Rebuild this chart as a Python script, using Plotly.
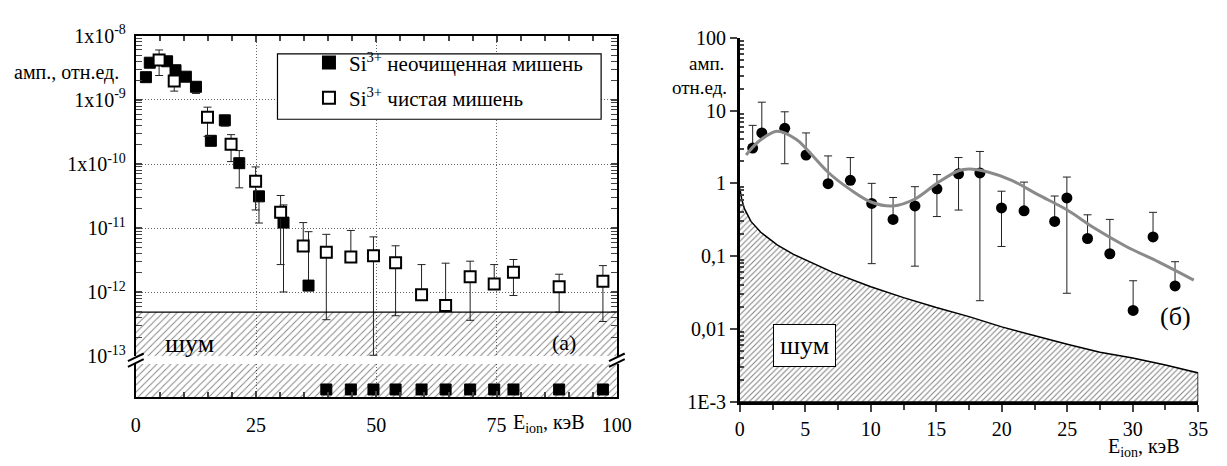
import plotly.graph_objects as go

W, H = 1227, 466
FONT = "Liberation Serif"

# ---------- panel (а): Si3+ amplitude vs ion energy ----------
# uncleaned target, detected points
e_raw = [2.1, 2.9, 6.5, 8.25, 10.4, 12.5, 15.6, 18.5, 21.5, 25.6, 30.7, 35.9]
a_raw = [2.26e-9, 3.8e-9, 4.0e-9, 2.9e-9, 2.3e-9, 1.6e-9, 2.3e-10, 4.8e-10,
         1.03e-10, 3.13e-11, 1.22e-11, 1.27e-12]
a_raw_hi = [2.26e-9, 3.8e-9, 4.0e-9, 2.9e-9, 2.3e-9, 1.6e-9, 2.3e-10, 4.8e-10,
            1.62e-10, 3.13e-11, 2.3e-11, 8.8e-12]
a_raw_lo = [2.26e-9, 3.8e-9, 4.0e-9, 2.9e-9, 2.3e-9, 1.26e-9, 2.3e-10, 3.9e-10,
            4.25e-11, 1.2e-11, 1.01e-12, 1.27e-12]
# uncleaned target, below detection (drawn under the axis break)
e_raw_zero = [39.6, 44.7, 49.4, 54.0, 59.4, 64.4, 69.5, 74.5, 78.5, 88.0, 97.1]
a_raw_zero = [0] * len(e_raw_zero)

# clean target
e_clean = [4.84, 7.98, 14.9, 19.8, 24.9, 30.1, 34.8, 39.6, 44.7, 49.4, 54.0,
           59.4, 64.4, 69.5, 74.5, 78.5, 88.0, 97.1]
a_clean = [4.2e-9, 1.97e-9, 5.35e-10, 2.04e-10, 5.4e-11, 1.77e-11, 5.25e-12,
           4.2e-12, 3.54e-12, 3.7e-12, 2.88e-12, 9.1e-13, 6.2e-13, 1.75e-12,
           1.35e-12, 2.05e-12, 1.22e-12, 1.49e-12]
a_clean_hi = [6.0e-9, 1.97e-9, 7.7e-10, 2.87e-10, 9.0e-11, 3.23e-11, 1.22e-11,
              8.0e-12, 9.2e-12, 7.3e-12, 5.3e-12, 2.7e-12, 2.84e-12, 3.05e-12,
              2.7e-12, 3.24e-12, 1.91e-12, 2.6e-12]
a_clean_lo = [2.4e-9, 1.37e-9, 2.7e-10, 1.09e-10, 1.92e-11, 2.7e-12, 5.25e-12,
              3.73e-13, 3.54e-12, 1.04e-13, 4.3e-13, 9.1e-13, 6.2e-13, 3.65e-13,
              1.35e-12, 8.9e-13, 4.9e-13, 3.5e-13]

noise_a = 4.9e-13          # noise threshold, panel (а)
xrange_a = [0, 100]
yrange_a = [-13, -8]        # log10 range above the break
ytick_a = [1e-8, 1e-9, 1e-10, 1e-11, 1e-12, 1e-13]
ytext_a = ["1x10<sup>-8</sup>", "1x10<sup>-9</sup>", "1x10<sup>-10</sup>",
           "10<sup>-11</sup>", "10<sup>-12</sup>", "10<sup>-13</sup>"]

# ---------- panel (б) ----------
e_b = [0.98, 1.68, 3.43, 5.06, 6.74, 8.44, 10.07, 11.7, 13.37, 15.05, 16.7,
       18.33, 19.98, 21.7, 24.04, 24.97, 26.55, 28.25, 30.03, 31.55, 33.23]
a_b = [3.05, 4.92, 5.7, 2.45, 0.99, 1.10, 0.53, 0.32, 0.49, 0.84, 1.35,
       1.39, 0.46, 0.42, 0.30, 0.63, 0.175, 0.108, 0.018, 0.184, 0.039]
a_b_hi = [6.25, 13.0, 9.6, 4.92, 2.38, 2.26, 1.0, 0.64, 0.90, 1.32, 2.26,
          2.74, 0.78, 1.04, 0.67, 1.22, 0.37, 0.32, 0.046, 0.40, 0.084]
a_b_lo = [3.05, 4.92, 1.86, 2.45, 0.99, 1.10, 0.079, 0.32, 0.073, 0.35, 0.43,
          0.0245, 0.136, 0.42, 0.30, 0.031, 0.175, 0.108, 0.018, 0.184, 0.039]

fit_e = [0.48, 1.5, 2.86, 4.3, 5.06, 6.74, 8.44, 10.07, 11.7, 13.37, 15.05,
         16.7, 17.5, 19.0, 20.76, 22.76, 25.0, 27.0, 29.5, 32.0, 34.66]
fit_a = [2.45, 3.84, 5.2, 4.04, 3.0, 1.42, 0.82, 0.55, 0.49, 0.61, 1.0,
         1.49, 1.57, 1.42, 1.10, 0.70, 0.43, 0.247, 0.136, 0.083, 0.047]

noise_e = [0, 0.15, 0.35, 0.85, 1.6, 2.85, 4.1, 5.36, 7.1, 10, 12.5, 15,
           17.5, 20, 22.5, 25, 27.5, 30, 32.5, 35]
noise_b = [0.85, 0.6, 0.45, 0.30, 0.213, 0.143, 0.106, 0.083, 0.060, 0.038,
           0.027, 0.0197, 0.0148, 0.0107, 0.0081, 0.0062, 0.0048, 0.0040,
           0.0032, 0.0025]

xrange_b = [0, 35]
yrange_b = [-3, 2]
ytick_b = [1e-3, 1e-2, 1e-1, 1, 10, 100]
ytext_b = ["1E-3", "0,01", "0,1", "1", "10", "100"]


def fx(p):
    """pixel column -> paper x"""
    return p / W


def fy(p):
    """pixel row -> paper y"""
    return 1 - p / H


def plus(v, hi):
    return [h - a for a, h in zip(v, hi)]


def minus(v, lo):
    return [a - l for a, l in zip(v, lo)]


fig = go.Figure()

# ---- panel (а) ----
hatch_a = dict(shape="/", size=5, solidity=0.18, fgcolor="black", bgcolor="rgba(0,0,0,0)")
fig.add_trace(go.Scatter(
    x=[xrange_a[0], xrange_a[1], xrange_a[1], xrange_a[0]],
    y=[noise_a, noise_a, 10 ** yrange_a[0], 10 ** yrange_a[0]],
    fill="toself", fillcolor="rgba(0,0,0,0)", fillpattern=hatch_a,
    mode="lines", line=dict(width=0), hoverinfo="skip", showlegend=False,
    xaxis="x", yaxis="y"))
fig.add_trace(go.Scatter(
    x=[xrange_a[0], xrange_a[1], xrange_a[1], xrange_a[0]],
    y=[-0.3, -0.3, 1, 1],
    fill="toself", fillcolor="rgba(0,0,0,0)", fillpattern=hatch_a,
    mode="lines", line=dict(width=0), hoverinfo="skip", showlegend=False,
    xaxis="x", yaxis="y2"))
fig.add_trace(go.Scatter(
    x=xrange_a, y=[noise_a, noise_a], mode="lines",
    line=dict(color="black", width=1.2), hoverinfo="skip", showlegend=False,
    xaxis="x3", yaxis="y"))

err_style = dict(type="data", color="#222", thickness=1, width=4)

fig.add_trace(go.Scatter(
    x=e_raw, y=a_raw, mode="markers",
    name="Si<sup>3+</sup> неочищенная мишень",
    marker=dict(symbol="square", size=11, color="black", line=dict(color="black", width=1)),
    error_y=dict(array=plus(a_raw, a_raw_hi), arrayminus=minus(a_raw, a_raw_lo), **err_style),
    xaxis="x", yaxis="y", legendgroup="g1"))
fig.add_trace(go.Scatter(
    x=e_clean, y=a_clean, mode="markers",
    name="Si<sup>3+</sup> чистая мишень",
    marker=dict(symbol="square", size=11, color="white", line=dict(color="black", width=2)),
    error_y=dict(array=plus(a_clean, a_clean_hi), arrayminus=minus(a_clean, a_clean_lo), **err_style),
    xaxis="x", yaxis="y", legendgroup="g2"))
fig.add_trace(go.Scatter(
    x=e_raw_zero, y=a_raw_zero, mode="markers",
    marker=dict(symbol="square", size=11, color="black", line=dict(color="black", width=1)),
    showlegend=False, xaxis="x", yaxis="y2"))

# ---- panel (б) ----
fig.add_trace(go.Scatter(
    x=noise_e + [noise_e[-1], noise_e[0]],
    y=noise_b + [10 ** yrange_b[0], 10 ** yrange_b[0]],
    fill="toself", fillcolor="rgba(0,0,0,0)",
    fillpattern=dict(shape="/", size=4, solidity=0.25, fgcolor="black", bgcolor="rgba(0,0,0,0)"),
    mode="lines", line=dict(color="black", width=1.5), hoverinfo="skip",
    showlegend=False, xaxis="x4", yaxis="y4"))
fig.add_trace(go.Scatter(
    x=e_b, y=a_b, mode="markers",
    marker=dict(symbol="circle", size=11, color="black"),
    error_y=dict(array=plus(a_b, a_b_hi), arrayminus=minus(a_b, a_b_lo), **err_style),
    showlegend=False, xaxis="x4", yaxis="y4"))
fig.add_trace(go.Scatter(
    x=fit_e, y=fit_a, mode="lines", line=dict(color="#8a8a8a", width=3, shape="spline"),
    showlegend=False, xaxis="x4", yaxis="y4"))

tickfont = dict(family=FONT, size=20, color="black")
grid = dict(showgrid=True, gridcolor="#666", gridwidth=1, griddash="1px,2px")

minor_log_a = [k * 10 ** d for d in range(-13, -8) for k in range(2, 10)]
minor_log_b = [k * 10 ** d for d in range(-3, 2) for k in range(2, 10)]

fig.update_layout(
    width=W, height=H, margin=dict(l=0, r=0, t=0, b=0),
    paper_bgcolor="white", plot_bgcolor="white",
    font=dict(family=FONT, size=18, color="black"),
    xaxis=dict(domain=[fx(133), fx(622)], range=xrange_a, anchor="y2",
               tickvals=[0, 25, 50, 75, 100], ticks="inside", ticklen=6, tickwidth=1.5,
               ticklabelstandoff=9,
               minor=dict(dtick=5, tick0=0, ticks="inside", ticklen=5, tickwidth=1.5, showgrid=False),
               showline=True, linewidth=2, linecolor="black", zeroline=False,
               tickfont=tickfont, **grid),
    xaxis3=dict(domain=[fx(133), fx(622)], range=xrange_a, anchor="y", overlaying="x",
                side="top", tickvals=[0, 25, 50, 75, 100], ticks="inside", ticklen=6, tickwidth=1.5,
                minor=dict(dtick=5, tick0=0, ticks="inside", ticklen=5, tickwidth=1.5, showgrid=False),
                showticklabels=False, showline=True, linewidth=2, linecolor="black",
                showgrid=False, zeroline=False),
    yaxis=dict(domain=[fy(362), fy(24)], type="log", range=yrange_a, anchor="x",
               tickmode="array", tickvals=ytick_a, ticktext=ytext_a,
               ticks="inside", ticklen=6, tickwidth=1.5, mirror="allticks",
               ticklabelstandoff=4,
               minor=dict(tickmode="array", tickvals=minor_log_a, ticks="inside",
                          ticklen=4, tickwidth=1.2, showgrid=False),
               showline=True, linewidth=2, linecolor="black", zeroline=False,
               tickfont=tickfont, **grid),
    yaxis2=dict(domain=[fy(405), fy(370)], range=[-0.3, 1], anchor="x",
                showticklabels=False, ticks="", showline=True, mirror=True,
                linewidth=2, linecolor="black", showgrid=False, zeroline=False),
    xaxis4=dict(domain=[fx(747), fx(1213)], range=xrange_b, anchor="y4",
                tickvals=list(range(0, 36, 5)), ticks="outside", ticklen=7, tickwidth=2,
                minor=dict(dtick=2.5, tick0=0, ticks="outside", ticklen=5, tickwidth=1.5),
                showline=True, linewidth=2.5, linecolor="black", showgrid=False,
                zeroline=False, tickfont=tickfont),
    yaxis4=dict(domain=[fy(410), fy(26)], type="log", range=yrange_b, anchor="x4",
                tickmode="array", tickvals=ytick_b, ticktext=ytext_b,
                ticks="outside", ticklen=7, tickwidth=2,
                minor=dict(tickmode="array", tickvals=minor_log_b, ticks="inside",
                           ticklen=4, tickwidth=1.5, showgrid=False),
                showline=True, linewidth=2.5, linecolor="black", showgrid=False,
                zeroline=False, tickfont=tickfont),
    legend=dict(x=fx(309), y=fy(31), xanchor="left", yanchor="top",
                bgcolor="rgba(0,0,0,0)", borderwidth=0, tracegroupgap=5,
                font=dict(family=FONT, size=21, color="black"), itemsizing="constant"),
)

# legend frame and axis-break marks
shapes = [
    dict(type="rect", xref="paper", yref="paper", x0=fx(277), x1=fx(606),
         y0=fy(112), y1=fy(43), line=dict(color="black", width=1.2),
         fillcolor="white", layer="above"),
]
for xc in (133, 622):
    for dy in (-3, 3):
        shapes.append(dict(type="line", xref="paper", yref="paper",
                           x0=fx(xc - 8), y0=fy(370 + dy), x1=fx(xc + 8), y1=fy(362 + dy),
                           line=dict(color="black", width=2)))
fig.update_layout(shapes=shapes)

ann = [
    dict(text="амп., отн.ед.", x=fx(63), y=fy(63), size=20),
    dict(text="E<sub>ion</sub>, кэВ", x=fx(553), y=fy(433), size=20),
    dict(text="шум", x=fx(188), y=fy(348), size=26),
    dict(text="(а)", x=fx(568), y=fy(347), size=22),
    dict(text="амп.", x=fx(713), y=fy(53), size=19),
    dict(text="отн.ед.", x=fx(706), y=fy(79), size=19),
    dict(text="(б)", x=fx(1190), y=fy(320), size=26),
]
for a in ann:
    fig.add_annotation(text=a["text"], x=a["x"], y=a["y"], xref="paper", yref="paper",
                       showarrow=False, xanchor="center", yanchor="middle",
                       font=dict(family=FONT, size=a["size"], color="black"))
fig.add_annotation(text="E<sub>ion</sub>, кэВ", x=fx(1158), y=0, xref="paper", yref="paper",
                   showarrow=False, xanchor="center", yanchor="bottom", yshift=-7,
                   font=dict(family=FONT, size=20, color="black"))
fig.add_annotation(text="шум", x=fx(813), y=fy(351), xref="paper", yref="paper",
                   showarrow=False, xanchor="center", yanchor="middle",
                   bgcolor="white", bordercolor="black", borderwidth=1, borderpad=6,
                   font=dict(family=FONT, size=26, color="black"))

fig.write_html("out.html")
